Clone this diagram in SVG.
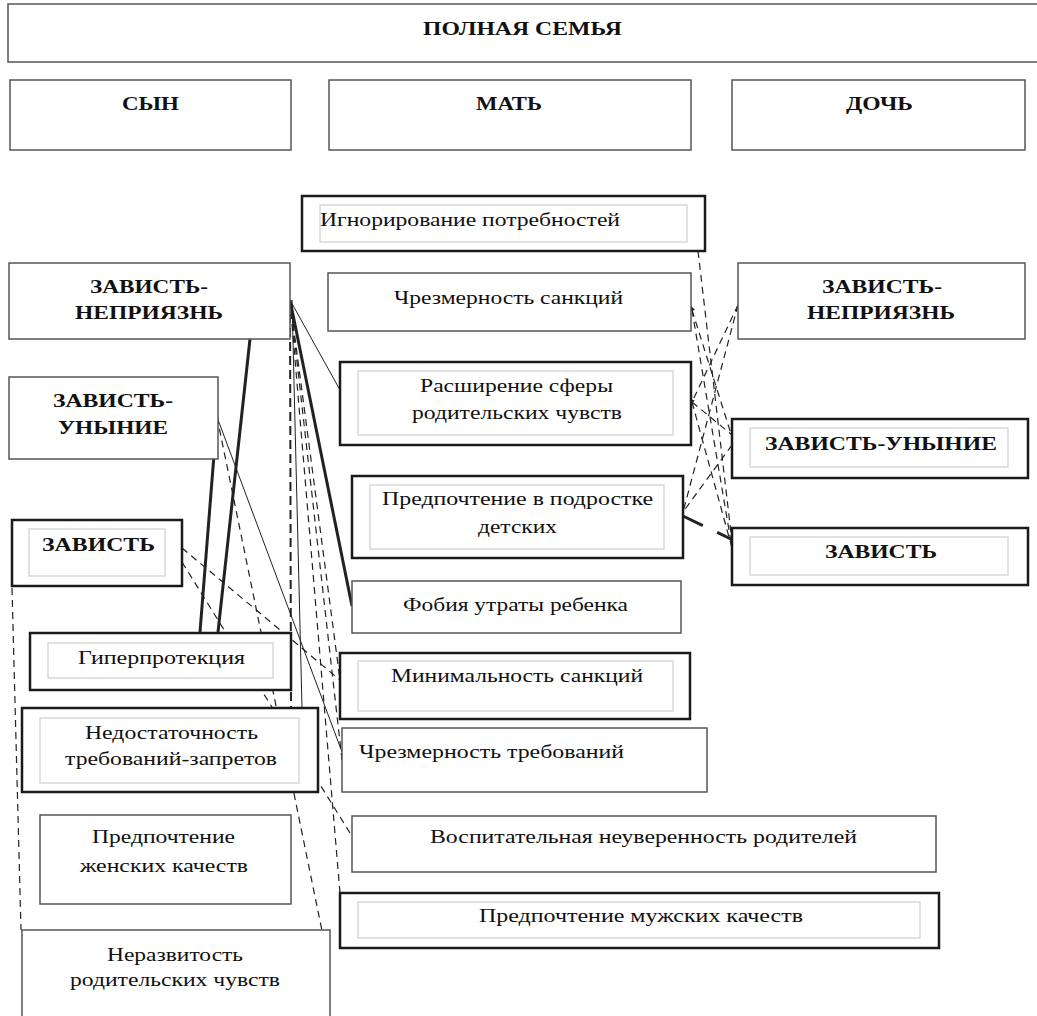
<svg xmlns="http://www.w3.org/2000/svg" width="1037" height="1016" viewBox="0 0 1037 1016">
<style>
.thin{fill:#fff;stroke:#555;stroke-width:1.5}
.thick{fill:#fff;stroke:#1a1a1a;stroke-width:2.5}
.inner{fill:none;stroke:#cfcfcf;stroke-width:1.2}
text{font-family:"Liberation Serif","Times New Roman",serif;font-size:19px;fill:#111}
.b{font-weight:bold}
#connectors line{stroke:#222;fill:none}
.d{stroke-width:1.2;stroke-dasharray:7 5}
.dk{stroke-width:2;stroke-dasharray:9 5}
.s{stroke-width:1}
.k{stroke-width:3}
.kd{stroke-width:3;stroke-dasharray:22 16}
</style>
<defs>
<marker id="ah" markerWidth="6" markerHeight="6" refX="1" refY="3" orient="auto-start-reverse" markerUnits="userSpaceOnUse"><path d="M0,0 L6,3 L0,6z" fill="#222"/></marker>
</defs>
<rect width="1037" height="1016" fill="#fff"/>

<g id="connectors">
<line x1="250" y1="339" x2="218" y2="632" class="k"/>
<line x1="217" y1="417" x2="200" y2="632" class="k"/>
<line x1="290" y1="300" x2="352" y2="606" class="k"/>
<line x1="290" y1="300" x2="340" y2="390" class="s"/>
<line x1="217" y1="417" x2="342" y2="752" class="s"/>
<line x1="292" y1="300" x2="302" y2="708" class="s"/>
<line x1="290" y1="300" x2="291" y2="708" class="dk"/>
<line x1="290" y1="300" x2="340" y2="680" class="d"/>
<line x1="290" y1="300" x2="342" y2="760" class="d"/>
<line x1="290" y1="300" x2="340" y2="893" class="d"/>
<line x1="182" y1="548" x2="340" y2="680" class="d"/>
<line x1="182" y1="562" x2="350" y2="833" class="d"/>
<line x1="217" y1="417" x2="328" y2="960" class="d"/>
<line x1="12" y1="588" x2="21" y2="930" class="d"/>
<line x1="698" y1="251" x2="733" y2="550" class="d"/>
<line x1="692" y1="310" x2="732" y2="437" class="d" marker-start="url(#ah)"/>
<line x1="692" y1="310" x2="732" y2="548" class="d"/>
<line x1="738" y1="305" x2="692" y2="402" class="d"/>
<line x1="738" y1="305" x2="683" y2="512" class="d"/>
<line x1="692" y1="402" x2="732" y2="435" class="d" marker-start="url(#ah)"/>
<line x1="692" y1="402" x2="732" y2="548" class="d"/>
<line x1="732" y1="445" x2="683" y2="512" class="d"/>
<line x1="683" y1="516" x2="735" y2="541" class="kd"/>
</g>

<g id="n-family"><rect x="8" y="4" width="1040" height="58" class="thin"/>
<text x="423" y="35" class="b" textLength="199" lengthAdjust="spacingAndGlyphs">ПОЛНАЯ СЕМЬЯ</text></g>
<g id="n-son"><rect x="10" y="80" width="281" height="70" class="thin"/>
<text x="122" y="110" class="b" textLength="57" lengthAdjust="spacingAndGlyphs">СЫН</text></g>
<g id="n-mother"><rect x="329" y="80" width="362" height="70" class="thin"/>
<text x="476" y="110" class="b" textLength="66" lengthAdjust="spacingAndGlyphs">МАТЬ</text></g>
<g id="n-daughter"><rect x="732" y="80" width="293" height="70" class="thin"/>
<text x="846" y="110" class="b" textLength="67" lengthAdjust="spacingAndGlyphs">ДОЧЬ</text></g>

<g id="n-ignor"><rect x="302" y="196" width="403" height="55" class="thick"/><rect x="320" y="205" width="367" height="37" class="inner"/>
<text x="320" y="226" textLength="300" lengthAdjust="spacingAndGlyphs">Игнорирование потребностей</text></g>

<g id="n-zn-son"><rect x="9" y="263" width="281" height="76" class="thin"/>
<text x="90" y="293" class="b" textLength="118" lengthAdjust="spacingAndGlyphs">ЗАВИСТЬ-</text>
<text x="75" y="319" class="b" textLength="148" lengthAdjust="spacingAndGlyphs">НЕПРИЯЗНЬ</text></g>

<g id="n-sank"><rect x="328" y="273" width="363" height="58" class="thin"/>
<text x="394" y="304" textLength="229" lengthAdjust="spacingAndGlyphs">Чрезмерность санкций</text></g>

<g id="n-zn-dau"><rect x="738" y="263" width="287" height="76" class="thin"/>
<text x="822" y="293" class="b" textLength="120" lengthAdjust="spacingAndGlyphs">ЗАВИСТЬ-</text>
<text x="807" y="319" class="b" textLength="148" lengthAdjust="spacingAndGlyphs">НЕПРИЯЗНЬ</text></g>

<g id="n-zu-son"><rect x="9" y="377" width="209" height="82" class="thin"/>
<text x="53" y="407" class="b" textLength="120" lengthAdjust="spacingAndGlyphs">ЗАВИСТЬ-</text>
<text x="58" y="434" class="b" textLength="110" lengthAdjust="spacingAndGlyphs">УНЫНИЕ</text></g>

<g id="n-rassh"><rect x="340" y="362" width="351" height="83" class="thick"/><rect x="358" y="371" width="315" height="64" class="inner"/>
<text x="420" y="392" textLength="193" lengthAdjust="spacingAndGlyphs">Расширение сферы</text>
<text x="412" y="419" textLength="210" lengthAdjust="spacingAndGlyphs">родительских чувств</text></g>

<g id="n-zu-dau"><rect x="732" y="419" width="296" height="59" class="thick"/><rect x="750" y="428" width="258" height="39" class="inner"/>
<text x="765" y="450" class="b" textLength="232" lengthAdjust="spacingAndGlyphs">ЗАВИСТЬ-УНЫНИЕ</text></g>

<g id="n-detsk"><rect x="352" y="476" width="331" height="82" class="thick"/><rect x="370" y="485" width="294" height="64" class="inner"/>
<text x="382" y="505" textLength="271" lengthAdjust="spacingAndGlyphs">Предпочтение в подростке</text>
<text x="478" y="533" textLength="79" lengthAdjust="spacingAndGlyphs">детских</text></g>

<g id="n-z-dau"><rect x="732" y="528" width="296" height="57" class="thick"/><rect x="750" y="537" width="258" height="38" class="inner"/>
<text x="825" y="558" class="b" textLength="112" lengthAdjust="spacingAndGlyphs">ЗАВИСТЬ</text></g>

<g id="n-z-son"><rect x="12" y="520" width="170" height="66" class="thick"/><rect x="29" y="529" width="136" height="47" class="inner"/>
<text x="42" y="551" class="b" textLength="113" lengthAdjust="spacingAndGlyphs">ЗАВИСТЬ</text></g>

<g id="n-fobia"><rect x="352" y="581" width="329" height="52" class="thin"/>
<text x="403" y="611" textLength="225" lengthAdjust="spacingAndGlyphs">Фобия утраты ребенка</text></g>

<g id="n-giper"><rect x="30" y="633" width="261" height="57" class="thick"/><rect x="48" y="643" width="225" height="35" class="inner"/>
<text x="78" y="664" textLength="167" lengthAdjust="spacingAndGlyphs">Гиперпротекция</text></g>

<g id="n-minim"><rect x="340" y="653" width="350" height="66" class="thick"/><rect x="358" y="661" width="315" height="50" class="inner"/>
<text x="391" y="682" textLength="252" lengthAdjust="spacingAndGlyphs">Минимальность санкций</text></g>

<g id="n-nedost"><rect x="22" y="708" width="296" height="84" class="thick"/><rect x="40" y="718" width="259" height="65" class="inner"/>
<text x="85" y="739" textLength="173" lengthAdjust="spacingAndGlyphs">Недостаточность</text>
<text x="65" y="765" textLength="212" lengthAdjust="spacingAndGlyphs">требований-запретов</text></g>

<g id="n-trebov"><rect x="342" y="728" width="365" height="64" class="thin"/>
<text x="359" y="758" textLength="265" lengthAdjust="spacingAndGlyphs">Чрезмерность требований</text></g>

<g id="n-vospit"><rect x="352" y="816" width="584" height="56" class="thin"/>
<text x="430" y="843" textLength="427" lengthAdjust="spacingAndGlyphs">Воспитательная неуверенность родителей</text></g>

<g id="n-zhensk"><rect x="40" y="815" width="251" height="89" class="thin"/>
<text x="92" y="843" textLength="143" lengthAdjust="spacingAndGlyphs">Предпочтение</text>
<text x="80" y="872" textLength="168" lengthAdjust="spacingAndGlyphs">женских качеств</text></g>

<g id="n-muzhsk"><rect x="340" y="893" width="599" height="55" class="thick"/><rect x="358" y="902" width="562" height="36" class="inner"/>
<text x="479" y="922" textLength="324" lengthAdjust="spacingAndGlyphs">Предпочтение мужских качеств</text></g>

<g id="n-nerazv"><rect x="22" y="930" width="308" height="100" class="thin"/>
<text x="107" y="961" textLength="136" lengthAdjust="spacingAndGlyphs">Неразвитость</text>
<text x="70" y="986" textLength="210" lengthAdjust="spacingAndGlyphs">родительских чувств</text></g>
</svg>
